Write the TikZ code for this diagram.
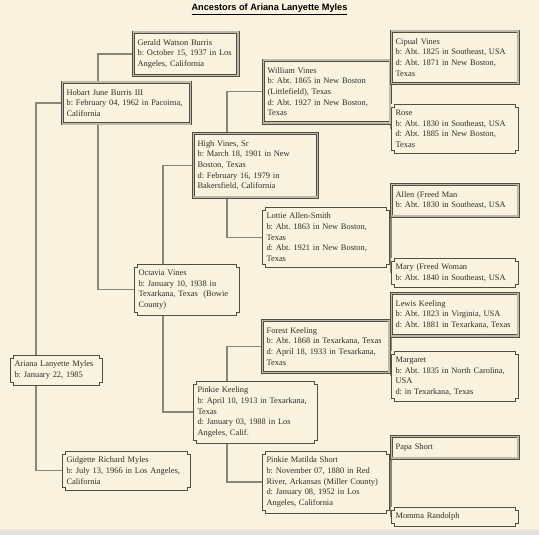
\documentclass[tikz,border=0pt]{standalone}
\usepackage{fontspec}
\setmainfont{Liberation Serif}
\newfontfamily\titlefont{Liberation Sans}
\usetikzlibrary{positioning,calc}

\definecolor{parchment}{RGB}{248,242,223}
\definecolor{stripgray}{RGB}{226,226,224}
\definecolor{framedark}{RGB}{82,78,70}
\definecolor{framemid}{RGB}{192,185,170}
\definecolor{linkgray}{RGB}{140,134,122}
\definecolor{inkgray}{RGB}{48,45,40}

\pgfdeclarelayer{paper}
\pgfdeclarelayer{links}
\pgfsetlayers{paper,links,main}

% notched frame for the women
\newcommand{\nt}{2.2pt}
\newcommand{\notchframe}[1]{%
  \draw[framemid, line width=0.6pt, shift={(0.6pt,-0.6pt)}] ([xshift=\nt]#1.north west) -- ([xshift=-\nt]#1.north east) -- ++(0pt,-\nt) -- ++(\nt,0pt) -- ([yshift=\nt]#1.south east) -- ++(-\nt,0pt) -- ++(0pt,-\nt) -- ([xshift=\nt]#1.south west) -- ++(0pt,\nt) -- ++(-\nt,0pt) -- ([yshift=-\nt]#1.north west) -- ++(\nt,0pt) -- cycle;
  \draw[framedark, line width=0.6pt] ([xshift=\nt]#1.north west) -- ([xshift=-\nt]#1.north east) -- ++(0pt,-\nt) -- ++(\nt,0pt) -- ([yshift=\nt]#1.south east) -- ++(-\nt,0pt) -- ++(0pt,-\nt) -- ([xshift=\nt]#1.south west) -- ++(0pt,\nt) -- ++(-\nt,0pt) -- ([yshift=-\nt]#1.north west) -- ++(\nt,0pt) -- cycle;}

\begin{document}
\begin{tikzpicture}[x=0.75pt, y=-0.75pt,
  font=\fontsize{6.3}{8}\selectfont\frenchspacing,
  person/.style={anchor=north west, align=left, fill=parchment, text=inkgray, inner xsep=3.2pt, inner ysep=4.2pt},
  male/.style={person, draw=framedark, line width=0.55pt, double=framemid, double distance=1.3pt, inner ysep=5.3pt},
  female/.style={person},
  gen0/.style={text width=62.6pt},
  gen1/.style={text width=89.6pt},
  gen2/.style={text width=72.1pt},
  gen3/.style={text width=86.6pt},
  gen4/.style={text width=88.8pt},
  link/.style={linkgray, line width=0.9pt}]

% Paper
\begin{pgfonlayer}{paper}
\fill[parchment] (0,0) rectangle (539,535);
\fill[stripgray] (0,530) rectangle (539,535);
\end{pgfonlayer}
\useasboundingbox (0,0) rectangle (539,535);

% Title
\node[font=\titlefont\bfseries\fontsize{6.9}{8}\selectfont] (title) at (269.5,9) {\underline{Ancestors of Ariana Lanyette Myles}};

% Generation 0 and 1
\node[female, gen0] (ariana) at (10,355) {Ariana Lanyette Myles\\b: January 22, 1985};
\node[male, gen1] (hobart) at (62,82) {Hobart June Burris III\\b: February 04, 1962 in Pacoima,\\California};
\node[female, gen1] (gidgette) at (62,451) {Gidgette Richard Myles\\b: July 13, 1966 in Los Angeles,\\California};

% Generation 2
\node[male, gen2] (gerald) at (133,32) {Gerald Watson Burris\\b: October 15, 1937 in Los\\Angeles, California};
\node[female, gen2] (octavia) at (134,264) {Octavia Vines\\b: January 10, 1938 in\\Texarkana, Texas~ (Bowie\\County)};

% Generation 3
\node[male, gen3] (high) at (193,133) {High Vines, Sr\\b: March 18, 1901 in New\\Boston, Texas\\d: February 16, 1979 in\\Bakersfield, California};
\node[female, gen3] (pinkiek) at (193,381) {Pinkie Keeling\\b: April 10, 1913 in Texarkana,\\Texas\\d: January 03, 1988 in Los\\Angeles, Calif.};

% Generation 4
\node[male, gen4] (william) at (263,60) {William Vines\\b: Abt. 1865 in New Boston\\(Littlefield), Texas\\d: Abt. 1927 in New Boston,\\Texas};
\node[female, gen4] (lottie) at (262,207) {Lottie Allen-Smith\\b: Abt. 1863 in New Boston,\\Texas\\d: Abt. 1921 in New Boston,\\Texas};
\node[male, gen4] (forest) at (262,320) {Forest Keeling\\b: Abt. 1868 in Texarkana, Texas\\d: April 18, 1933 in Texarkana,\\Texas};
\node[female, gen4] (pinkiems) at (262,451) {Pinkie Matilda Short\\b: November 07, 1880 in Red\\River, Arkansas (Miller County)\\d: January 08, 1952 in Los\\Angeles, California};

% Generation 5
\node[male, gen4] (cipual) at (391,31) {Cipual Vines\\b: Abt. 1825 in Southeast, USA\\d: Abt. 1871 in New Boston,\\Texas};
\node[female, gen4] (rose) at (391,104) {Rose\\b: Abt. 1830 in Southeast, USA\\d: Abt. 1885 in New Boston,\\Texas};
\node[male, gen4] (allen) at (391,184) {Allen (Freed Man\\b: Abt. 1830 in Southeast, USA};
\node[female, gen4] (mary) at (391,258) {Mary (Freed Woman\\b: Abt. 1840 in Southeast, USA};
\node[male, gen4] (lewis) at (391,293) {Lewis Keeling\\b: Abt. 1823 in Virginia, USA\\d: Abt. 1881 in Texarkana, Texas};
\node[female, gen4] (margaret) at (391,351) {Margaret\\b: Abt. 1835 in North Carolina,\\USA\\d: in Texarkana, Texas};
\node[male, gen4] (papa) at (391,436) {Papa Short};
\node[female, gen4] (momma) at (391,507) {Momma Randolph};

% Frames of the women
\foreach \w in {ariana, gidgette, octavia, pinkiek, lottie, pinkiems, rose, mary, margaret, momma}
  \notchframe{\w};

% Links from each child to both parents
\begin{pgfonlayer}{links}
\foreach \kid/\pa/\ma/\tx in {ariana/hobart/gidgette/36, hobart/gerald/octavia/98, octavia/high/pinkiek/163, high/william/lottie/227, pinkiek/forest/pinkiems/227} {
  \coordinate (trunk) at (\tx,0);
  \draw[link] (\pa.west) -- (\pa.west -| trunk) -- (\ma.west -| trunk) -- (\ma.west);
}
\foreach \kid/\pa/\ma in {william/cipual/rose, lottie/allen/mary, forest/lewis/margaret, pinkiems/papa/momma} {
  \draw[link] (\kid.east) -- (\kid.east -| \pa.west);
  \draw[link] (\pa.west) -- (\ma.west);
}
\end{pgfonlayer}

\end{tikzpicture}
\end{document}
